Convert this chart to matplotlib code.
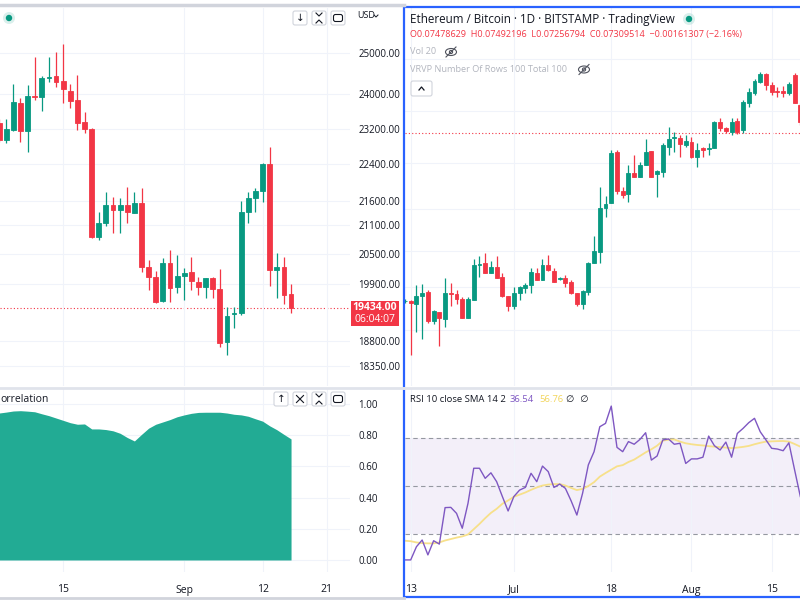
import numpy as np
import matplotlib
matplotlib.use('Agg')
import matplotlib.pyplot as plt
from matplotlib.patches import Rectangle, FancyBboxPatch, Circle, Ellipse
from matplotlib.lines import Line2D
from matplotlib.ticker import FixedLocator, NullLocator
from matplotlib.transforms import Affine2D

plt.rcParams['font.family'] = ['Open Sans', 'DejaVu Sans']

# ---------------- data: BTC/USD daily (left) ----------------
btc_start = np.datetime64('2022-08-06')
btc_open = [23330, 22940, 23168, 23795, 23145, 23960, 23936, 24390, 24438, 24318, 24079, 23866, 23353, 23191,
            20847, 21137, 21516, 21410, 21516, 21347, 21558, 20240, 20040, 19571, 20320, 19843, 20060, 20140,
            19942, 19843, 20020, 19804, 18795, 19322, 19341, 21368, 21664, 21815, 22403, 20180, 20240, 19707]
btc_high = [23422, 23422, 24246, 23912, 24222, 24901, 24438, 24901, 25025, 25223, 24246, 24462, 23584, 23220,
            21368, 21793, 21686, 21664, 21900, 21793, 21879, 20380, 20160, 20420, 20581, 20480, 20220, 20440,
            20040, 20020, 20040, 20200, 19456, 19456, 21600, 21793, 21879, 22420, 22783, 20520, 20440, 19902]
btc_low = [22895, 22873, 23145, 22895, 22670, 23866, 23607, 24294, 24174, 23795, 23677, 23168, 23100, 20826,
           20785, 21074, 20929, 20929, 21137, 21347, 20140, 19785, 19533, 19552, 19552, 19726, 19590, 19785,
           19687, 19629, 19629, 18703, 18555, 19057, 19300, 21137, 21368, 21579, 19863, 19629, 19514, 19341]
btc_close = [22940, 23191, 23818, 23145, 23960, 23936, 24390, 24414, 24294, 24126, 23842, 23330, 23191, 20847,
             21137, 21516, 21410, 21516, 21368, 21558, 20240, 20040, 19552, 20320, 19824, 20060, 20120, 19961,
             19843, 20020, 19804, 18777, 19285, 19341, 21368, 21664, 21815, 22403, 20180, 20240, 19687, 19434]
correlation = [0.942, 0.948, 0.955, 0.957, 0.954, 0.950, 0.937, 0.925, 0.910, 0.895, 0.880, 0.870, 0.872, 0.840,
               0.840, 0.836, 0.828, 0.812, 0.785, 0.763, 0.805, 0.845, 0.870, 0.885, 0.900, 0.918, 0.930, 0.940,
               0.946, 0.947, 0.947, 0.947, 0.942, 0.934, 0.930, 0.921, 0.905, 0.890, 0.860, 0.835, 0.805, 0.776]
btc_price_ticks = [18350, 18800, 19900, 20500, 21100, 21600, 22400, 23200, 24000, 25000]
btc_last = 19434.00
btc_countdown = '06:04:07'
btc_date_ticks = ['2022-08-15', '2022-09-01', '2022-09-12', '2022-09-21']
btc_date_labels = ['15', 'Sep', '12', '21']
corr_ticks = [0.0, 0.2, 0.4, 0.6, 0.8, 1.0]

# ---------------- data: ETH/BTC daily (right) ----------------
eth_start = np.datetime64('2022-06-12')
eth_open = [0.05390, 0.05392, 0.05363, 0.05441, 0.05481, 0.05200, 0.05286, 0.05219, 0.05471, 0.05461,
            0.05412, 0.05229, 0.05402, 0.05755, 0.05776, 0.05672, 0.05735, 0.05631, 0.05441, 0.05343,
            0.05471, 0.05520, 0.05551, 0.05672, 0.05601, 0.05755, 0.05693, 0.05611, 0.05621, 0.05581,
            0.05471, 0.05363, 0.05481, 0.05776, 0.05892, 0.06381, 0.06439, 0.07063, 0.06581, 0.06545,
            0.06799, 0.06750, 0.06898, 0.07075, 0.06787, 0.06811, 0.07127, 0.07244, 0.07244, 0.07153,
            0.07192, 0.06999, 0.07114, 0.07101, 0.07114, 0.07457, 0.07377, 0.07323, 0.07471, 0.07350,
            0.07718, 0.07860, 0.08018, 0.08135, 0.07974, 0.07888, 0.07888, 0.07860, 0.08120, 0.07690]
eth_high = [0.05410, 0.05402, 0.05551, 0.05561, 0.05500, 0.05305, 0.05286, 0.05621, 0.05571, 0.05500,
            0.05431, 0.05431, 0.05818, 0.05850, 0.05882, 0.05797, 0.05850, 0.05672, 0.05441, 0.05530,
            0.05540, 0.05571, 0.05724, 0.05724, 0.05818, 0.05860, 0.05724, 0.05631, 0.05652, 0.05601,
            0.05471, 0.05500, 0.05787, 0.06066, 0.06629, 0.06522, 0.07088, 0.07088, 0.06629, 0.06898,
            0.07024, 0.06936, 0.07231, 0.07075, 0.06836, 0.07179, 0.07390, 0.07323, 0.07284, 0.07284,
            0.07257, 0.07179, 0.07127, 0.07179, 0.07471, 0.07511, 0.07390, 0.07511, 0.07511, 0.07760,
            0.07931, 0.08061, 0.08164, 0.08149, 0.08018, 0.07945, 0.07960, 0.08018, 0.08149, 0.07718]
eth_low = [0.05370, 0.04890, 0.05097, 0.05033, 0.05181, 0.05172, 0.04970, 0.05144, 0.05343, 0.05363,
           0.05229, 0.05229, 0.05402, 0.05631, 0.05672, 0.05672, 0.05621, 0.05431, 0.05295, 0.05314,
           0.05402, 0.05471, 0.05471, 0.05601, 0.05601, 0.05693, 0.05581, 0.05601, 0.05530, 0.05461,
           0.05343, 0.05314, 0.05451, 0.05776, 0.05776, 0.06278, 0.06439, 0.06545, 0.06498, 0.06451,
           0.06750, 0.06750, 0.06898, 0.06750, 0.06510, 0.06750, 0.07024, 0.07063, 0.06999, 0.07127,
           0.06986, 0.06873, 0.06999, 0.07024, 0.07114, 0.07336, 0.07310, 0.07284, 0.07297, 0.07310,
           0.07662, 0.07831, 0.08003, 0.07902, 0.07831, 0.07803, 0.07803, 0.07831, 0.07718, 0.07420]
eth_close = [0.05392, 0.05373, 0.05441, 0.05471, 0.05200, 0.05295, 0.05229, 0.05471, 0.05461, 0.05412,
             0.05229, 0.05412, 0.05755, 0.05766, 0.05672, 0.05735, 0.05621, 0.05441, 0.05343, 0.05471,
             0.05530, 0.05551, 0.05683, 0.05601, 0.05755, 0.05703, 0.05581, 0.05621, 0.05571, 0.05471,
             0.05363, 0.05491, 0.05776, 0.05903, 0.06381, 0.06428, 0.07050, 0.06581, 0.06533, 0.06799,
             0.06750, 0.06898, 0.07063, 0.06750, 0.06824, 0.07153, 0.07231, 0.07257, 0.07166, 0.07205,
             0.06999, 0.07088, 0.07088, 0.07114, 0.07457, 0.07377, 0.07336, 0.07457, 0.07323, 0.07732,
             0.07874, 0.08032, 0.08135, 0.07974, 0.07874, 0.07874, 0.07860, 0.07988, 0.07718, 0.07457]
rsi10 = [19.2, 19.2, 24.7, 27.5, 21.3, 27.2, 25.8, 41.0, 41.1, 38.6, 32.4, 42.8, 57.4, 57.4, 53.2, 55.5,
         51.8, 45.6, 39.6, 45.6, 48.3, 49.4, 55.3, 51.8, 58.3, 56.0, 49.4, 50.8, 49.0, 43.8, 37.9, 47.0,
         58.8, 64.3, 74.7, 76.1, 83.3, 66.1, 64.3, 68.5, 67.4, 69.4, 72.2, 60.8, 62.5, 69.2, 69.6, 67.4,
         67.8, 59.4, 61.3, 61.3, 62.0, 70.8, 66.8, 65.0, 68.3, 62.0, 71.9, 74.0, 76.4, 78.2, 72.6, 69.2,
         65.7, 65.4, 64.7, 68.0, 56.7, 45.6]
rsi_sma = [27.2, 27.0, 26.5, 26.2, 26.1, 26.1, 26.5, 27.3, 27.9, 28.5, 29.0, 29.8, 32.0, 34.2, 36.6, 38.8,
           40.5, 42.6, 44.0, 45.5, 46.4, 47.3, 48.4, 49.4, 50.2, 50.6, 50.8, 50.8, 50.2, 49.2, 48.3, 48.8,
           50.0, 51.6, 53.9, 55.4, 56.8, 58.2, 58.7, 60.0, 61.0, 62.5, 64.0, 65.3, 66.8, 68.9, 69.3, 69.4,
           68.5, 67.8, 67.4, 67.1, 66.9, 66.6, 66.4, 66.2, 66.0, 65.8, 66.0, 66.3, 66.7, 67.4, 68.0, 68.5,
           68.6, 68.7, 68.75, 68.5, 67.5, 66.4]
eth_last = 0.07309514
eth_grid = [0.0512, 0.0553, 0.0590, 0.0637, 0.0692, 0.0760, 0.0836]
eth_date_ticks = ['2022-06-13', '2022-07-01', '2022-07-18', '2022-08-01', '2022-08-15']
eth_date_labels = ['13', 'Jul', '18', 'Aug', '15']
rsi_levels = [30, 50, 70]

GREEN = '#089981'
RED = '#f23645'
TEXT = '#131722'
GRID = '#f0f3fa'
SEP = '#e0e3eb'

W, H = 800, 600
fig = plt.figure(figsize=(8, 6), dpi=100)
fig.patch.set_facecolor('white')
pix = Affine2D().scale(1.0 / W, -1.0 / H).translate(0, 1) + fig.transFigure


def rect(x0, y0, x1, y1):
    return [x0 / W, 1 - y1 / H, (x1 - x0) / W, (y1 - y0) / H]


def days(dates, start):
    return np.array([(np.datetime64(d) - start).astype(int) for d in dates])


def candles(ax, x, o, h, l, c, width=0.68):
    o, h, l, c = map(np.asarray, (o, h, l, c))
    cols = np.where(c >= o, GREEN, RED)
    ax.vlines(x, l, h, colors=cols, linewidth=0.9, zorder=2)
    ax.bar(x, np.abs(c - o), bottom=np.minimum(o, c), width=width, color=cols,
           edgecolor=cols, linewidth=0.6, zorder=3)


def clean(ax):
    for s in ax.spines.values():
        s.set_visible(False)
    ax.set_facecolor('none')


# ---------------- left top: BTC candles ----------------
bx = np.arange(len(btc_close))
bxlim = (0.126, 49.28)
ax1 = fig.add_axes(rect(0, 8, 350, 386))
clean(ax1)
ax1.set_yscale('log')
candles(ax1, bx, btc_open, btc_high, btc_low, btc_close)
ax1.set_xlim(*bxlim)
ax1.set_ylim(17991, 26137)
ax1.yaxis.set_major_locator(FixedLocator(btc_price_ticks))
ax1.yaxis.set_minor_locator(NullLocator())
ax1.set_yticklabels([f'{v:.2f}' for v in btc_price_ticks])
ax1.yaxis.tick_right()
ax1.tick_params(axis='y', length=0, pad=6, labelsize=7, labelcolor=TEXT)
ax1.set_xticks(days(btc_date_ticks, btc_start))
ax1.tick_params(axis='x', length=0, labelbottom=False)
ax1.grid(True, color=GRID, lw=0.8, zorder=0)
ax1.axhline(btc_last, color=RED, lw=0.8, ls=(0, (1, 2)), zorder=1)

# ---------------- left bottom: correlation ----------------
ax2 = fig.add_axes(rect(0, 389, 350, 572))
clean(ax2)
ax2.fill_between(bx, 0, correlation, color='#22ab94', lw=0, zorder=2)
ax2.set_xlim(*bxlim)
ax2.set_ylim(-0.077, 1.096)
ax2.set_yticks(corr_ticks)
ax2.set_yticklabels([f'{v:.2f}' for v in corr_ticks])
ax2.yaxis.tick_right()
ax2.tick_params(axis='y', length=0, pad=6, labelsize=7, labelcolor=TEXT)
ax2.set_xticks(days(btc_date_ticks, btc_start))
ax2.set_xticklabels(btc_date_labels)
ax2.tick_params(axis='x', length=0, pad=9, labelsize=7.5, labelcolor=TEXT)
ax2.grid(True, color=GRID, lw=0.8, zorder=0)

# ---------------- right top: ETH/BTC candles ----------------
ex = np.arange(len(eth_close))
exlim = (0.005, 68.94)
ax3 = fig.add_axes(rect(405, 8, 800, 386))
clean(ax3)
ax3.set_yscale('log')
candles(ax3, ex, eth_open, eth_high, eth_low, eth_close)
ax3.set_xlim(*exlim)
ax3.set_ylim(0.04622, 0.09167)
ax3.yaxis.set_major_locator(FixedLocator(eth_grid))
ax3.yaxis.set_minor_locator(NullLocator())
ax3.tick_params(axis='y', length=0, labelleft=False, labelright=False)
ax3.set_xticks(days(eth_date_ticks, eth_start))
ax3.tick_params(axis='x', length=0, labelbottom=False)
ax3.grid(True, color=GRID, lw=0.8, zorder=0)
ax3.axhline(eth_last, color=RED, lw=0.8, ls=(0, (1, 2)), zorder=1)

# ---------------- right bottom: RSI ----------------
ax4 = fig.add_axes(rect(405, 389, 800, 572))
clean(ax4)
ax4.axhspan(rsi_levels[0], rsi_levels[2], color='#7e57c2', alpha=0.09, lw=0, zorder=1)
for lv in rsi_levels:
    ax4.axhline(lv, color='#9598a1', lw=0.8, ls=(0, (4, 3)), zorder=2)
ax4.plot(ex, rsi_sma, color='#f7e08a', lw=1.3, zorder=3)
ax4.plot(ex, rsi10, color='#7e57c2', lw=1.0, zorder=4)
ax4.set_xlim(*exlim)
ax4.set_ylim(14.17, 90.42)
ax4.set_yticks([])
ax4.set_xticks(days(eth_date_ticks, eth_start))
ax4.set_xticklabels(eth_date_labels)
ax4.tick_params(axis='x', length=0, pad=9, labelsize=7.5, labelcolor=TEXT)
ax4.grid(True, axis='x', color=GRID, lw=0.8, zorder=0)

# ---------------- decorations (pixel coordinates) ----------------
def add(a):
    fig.add_artist(a)
    return a


def ptext(x, y, s, **kw):
    kw.setdefault('ha', 'left')
    kw.setdefault('va', 'center')
    return fig.text(x / W, 1 - y / H, s, **kw)


def hline(x0, x1, y, color=SEP, lw=1.5):
    add(Line2D([x0, x1], [y, y], transform=pix, color=color, lw=lw))


hline(0, 404, 4.5, color='#d1d4dc', lw=2.5)
hline(0, 404, 387.5, color=SEP, lw=2)
hline(404, 800, 387.5, color=SEP, lw=2)
hline(0, 404, 597.5, color='#d1d4dc', lw=2)

# blue border of the active right pane
add(Rectangle((404, 7), 400, 590, transform=pix, fill=False, edgecolor='#2962ff', lw=1.6))


def button(x0, y0, x1, y1, kind):
    add(FancyBboxPatch((x0, y0), x1 - x0, y1 - y0, boxstyle='round,pad=0,rounding_size=2',
                       transform=pix, fc='white', ec='#d1d4dc', lw=0.8))
    cx, cy = (x0 + x1) / 2, (y0 + y1) / 2
    if kind in ('down', 'up'):
        s = '↓' if kind == 'down' else '↑'
        ptext(cx, cy, s, ha='center', size=7.5, color=TEXT, family=['DejaVu Sans'])
    elif kind == 'close':
        add(Line2D([cx - 3.5, cx + 3.5], [cy - 3.5, cy + 3.5], transform=pix, color=TEXT, lw=0.8))
        add(Line2D([cx - 3.5, cx + 3.5], [cy + 3.5, cy - 3.5], transform=pix, color=TEXT, lw=0.8))
    elif kind == 'collapse':
        add(Line2D([cx - 3, cx, cx + 3], [cy - 5, cy - 2, cy - 5], transform=pix, color=TEXT, lw=0.8))
        add(Line2D([cx - 3, cx, cx + 3], [cy + 5, cy + 2, cy + 5], transform=pix, color=TEXT, lw=0.8))
    elif kind == 'max':
        add(FancyBboxPatch((cx - 4.5, cy - 3.5), 9, 7, boxstyle='round,pad=0,rounding_size=2',
                           transform=pix, fill=False, ec=TEXT, lw=0.8))
    elif kind == 'caret':
        add(Line2D([cx - 2.5, cx, cx + 2.5], [cy + 1.5, cy - 1.5, cy + 1.5], transform=pix,
                   color=TEXT, lw=0.9))


button(293, 11, 307, 25, 'down')
button(312, 11, 326, 25, 'collapse')
button(331, 11, 345, 25, 'max')
button(274, 392, 288, 406, 'up')
button(293, 392, 307, 406, 'close')
button(312, 392, 326, 406, 'collapse')
button(331, 392, 345, 406, 'max')
button(411, 81, 432, 96, 'caret')

ptext(357, 16, 'USD', size=6.5, color=TEXT)
add(Line2D([374, 376, 378], [15, 17, 15], transform=pix, color=TEXT, lw=0.7))

# status dots
for (cx, cy) in [(9, 18), (689, 19)]:
    add(Circle((cx, cy), 6, transform=pix, color=GREEN, alpha=0.15, lw=0))
    add(Circle((cx, cy), 3.2, transform=pix, color=GREEN, lw=0))

# last price label on left scale
add(Rectangle((351, 301), 48, 25, transform=pix, color=RED, lw=0))
ptext(375, 308, f'{btc_last:.2f}', ha='center', size=7.5, color='white', weight='bold')
ptext(375, 319.5, btc_countdown, ha='center', size=7.5, color='white')

# correlation title (visible part, pane is scrolled at the left edge)
ptext(0, 399.5, 'orrelation', size=7.5, color=TEXT)

# right header
ptext(410, 19, 'Ethereum / Bitcoin · 1D · BITSTAMP · TradingView', size=8.35, color=TEXT)
ptext(410, 34, 'O0.07478629  H0.07492196  L0.07256794  C0.07309514  −0.00161307 (−2.16%)',
      size=6.5, color=RED)
ptext(410, 52, 'Vol 20', size=6.6, color='#b2b5be')
ptext(410, 70, 'VRVP Number Of Rows 100 Total 100', size=6.6, color='#b2b5be')


def eye(cx, cy):
    add(Ellipse((cx, cy), 11, 7, transform=pix, fill=False, ec='#50535e', lw=0.8))
    add(Circle((cx, cy), 1.6, transform=pix, fill=False, ec='#50535e', lw=0.8))
    add(Line2D([cx - 5, cx + 5], [cy + 5, cy - 5], transform=pix, color='#50535e', lw=0.8))


eye(451, 52)
eye(584, 69.5)

# RSI title
ptext(410, 399.5, 'RSI 10 close SMA 14 2', size=6.8, color=TEXT)
ptext(510, 399.5, '36.54', size=6.8, color='#7e57c2')
ptext(539, 399.5, '56.76', size=6.8, color='#f2d55c')
ptext(566, 399.5, '∅  ∅', size=6.8, color=TEXT, family=['DejaVu Sans'])

fig.savefig('out.png', dpi=100, facecolor='white')
